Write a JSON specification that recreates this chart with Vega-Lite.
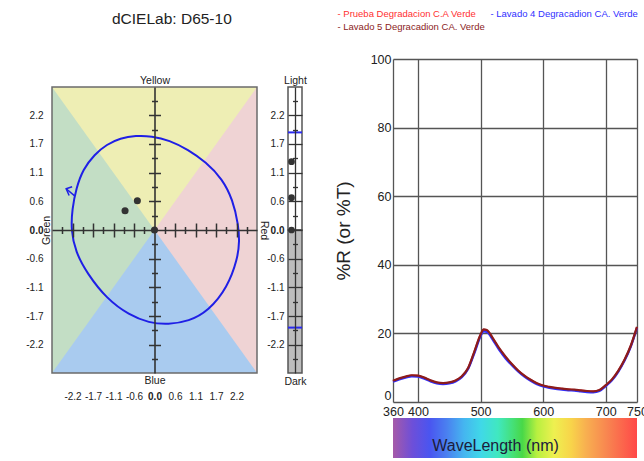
{
  "$schema": "https://vega.github.io/schema/vega-lite/v6.json",
  "width": 644,
  "height": 461,
  "autosize": "none",
  "padding": 0,
  "background": "white",
  "config": {
    "view": {"stroke": null},
    "axis": {
      "labelFont": "Liberation Sans, sans-serif",
      "labelFontSize": 10,
      "labelColor": "#222",
      "titleFont": "Liberation Sans, sans-serif",
      "titleFontSize": 10.5,
      "titleFontWeight": "normal",
      "titleColor": "#222",
      "labelFlush": false,
      "labelOverlap": false,
      "labelBound": false,
      "grid": false
    }
  },
  "title": {
    "text": "dCIELab: D65-10",
    "anchor": "start",
    "frame": "group",
    "dx": 112,
    "offset": -27,
    "fontSize": 15.5,
    "fontWeight": "normal",
    "font": "Liberation Sans, sans-serif",
    "color": "#222"
  },
  "datasets": {
    "halves": [
      {"region": "Green", "a1": -2.75, "a2": 0},
      {"region": "Red", "a1": 0, "a2": 2.75}
    ],
    "wedges": [
      {"region": "Yellow", "a": -2.75, "lo": 2.74, "hi": 2.74},
      {"region": "Yellow", "a": 0, "lo": 0, "hi": 2.74},
      {"region": "Yellow", "a": 2.75, "lo": 2.74, "hi": 2.74},
      {"region": "Blue", "a": -2.75, "lo": -2.74, "hi": -2.74},
      {"region": "Blue", "a": 0, "lo": -2.74, "hi": 0},
      {"region": "Blue", "a": 2.75, "lo": -2.74, "hi": -2.74}
    ],
    "ellipse": [
      {"i": 1, "a": -1.92, "b": 1.16},
      {"i": 2, "a": -1.61, "b": 1.45},
      {"i": 3, "a": -1.28, "b": 1.64},
      {"i": 4, "a": -0.92, "b": 1.76},
      {"i": 5, "a": -0.50, "b": 1.81},
      {"i": 6, "a": -0.08, "b": 1.80},
      {"i": 7, "a": 0.40, "b": 1.72},
      {"i": 8, "a": 0.90, "b": 1.54},
      {"i": 9, "a": 1.38, "b": 1.30},
      {"i": 10, "a": 1.82, "b": 0.98},
      {"i": 11, "a": 2.10, "b": 0.58},
      {"i": 12, "a": 2.25, "b": 0.10},
      {"i": 13, "a": 2.28, "b": -0.22},
      {"i": 14, "a": 2.23, "b": -0.55},
      {"i": 15, "a": 1.96, "b": -1.10},
      {"i": 16, "a": 1.45, "b": -1.55},
      {"i": 17, "a": 0.92, "b": -1.75},
      {"i": 18, "a": 0.37, "b": -1.81},
      {"i": 19, "a": -0.15, "b": -1.78},
      {"i": 20, "a": -0.68, "b": -1.63},
      {"i": 21, "a": -1.28, "b": -1.32},
      {"i": 22, "a": -1.80, "b": -0.84},
      {"i": 23, "a": -2.12, "b": -0.42},
      {"i": 24, "a": -2.24, "b": 0.00},
      {"i": 25, "a": -2.21, "b": 0.40},
      {"i": 26, "a": -2.10, "b": 0.80}
    ],
    "arrow": [
      {"seg": "head", "i": 1, "a": -2.21, "b": 0.83},
      {"seg": "head", "i": 2, "a": -2.37, "b": 0.79},
      {"seg": "head", "i": 3, "a": -2.29, "b": 0.66},
      {"seg": "tail", "i": 1, "a": -2.37, "b": 0.79},
      {"seg": "tail", "i": 2, "a": -2.15, "b": 0.66}
    ],
    "samples": [
      {"sample": "Prueba", "a": 0, "b": 0, "L": 0},
      {"sample": "Lavado 4", "a": -0.79, "b": 0.37, "L": 0.62},
      {"sample": "Lavado 5", "a": -0.46, "b": 0.56, "L": 1.31}
    ],
    "lhalves": [
      {"half": "Light", "lo": 0, "hi": 2.74},
      {"half": "Dark", "lo": -2.74, "hi": 0}
    ],
    "limits": [{"L": 1.87}, {"L": -1.87}],
    "spectra": [
      {"wl": 360, "P": 6.1, "L4": 5.9, "L5": 6.2},
      {"wl": 370, "P": 6.8, "L4": 6.6, "L5": 6.9},
      {"wl": 380, "P": 7.3, "L4": 7.1, "L5": 7.4},
      {"wl": 390, "P": 7.7, "L4": 7.5, "L5": 7.8},
      {"wl": 400, "P": 7.6, "L4": 7.4, "L5": 7.7},
      {"wl": 410, "P": 7.0, "L4": 6.8, "L5": 7.1},
      {"wl": 420, "P": 6.2, "L4": 6.0, "L5": 6.3},
      {"wl": 430, "P": 5.6, "L4": 5.4, "L5": 5.7},
      {"wl": 440, "P": 5.4, "L4": 5.2, "L5": 5.5},
      {"wl": 450, "P": 5.6, "L4": 5.4, "L5": 5.7},
      {"wl": 460, "P": 6.2, "L4": 6.0, "L5": 6.3},
      {"wl": 470, "P": 7.4, "L4": 7.2, "L5": 7.5},
      {"wl": 480, "P": 9.8, "L4": 9.6, "L5": 9.9},
      {"wl": 490, "P": 14.5, "L4": 14.2, "L5": 14.7},
      {"wl": 500, "P": 19.5, "L4": 19.2, "L5": 19.7},
      {"wl": 505, "P": 21.0, "L4": 20.6, "L5": 21.2},
      {"wl": 510, "P": 20.8, "L4": 20.4, "L5": 21.0},
      {"wl": 520, "P": 18.3, "L4": 18.0, "L5": 18.5},
      {"wl": 530, "P": 15.4, "L4": 15.1, "L5": 15.6},
      {"wl": 540, "P": 13.0, "L4": 12.7, "L5": 13.2},
      {"wl": 550, "P": 10.9, "L4": 10.7, "L5": 11.1},
      {"wl": 560, "P": 9.1, "L4": 8.9, "L5": 9.2},
      {"wl": 570, "P": 7.6, "L4": 7.4, "L5": 7.7},
      {"wl": 580, "P": 6.4, "L4": 6.2, "L5": 6.5},
      {"wl": 590, "P": 5.4, "L4": 5.2, "L5": 5.5},
      {"wl": 600, "P": 4.7, "L4": 4.5, "L5": 4.8},
      {"wl": 610, "P": 4.3, "L4": 4.1, "L5": 4.4},
      {"wl": 620, "P": 4.0, "L4": 3.8, "L5": 4.1},
      {"wl": 630, "P": 3.8, "L4": 3.6, "L5": 3.9},
      {"wl": 640, "P": 3.6, "L4": 3.4, "L5": 3.7},
      {"wl": 650, "P": 3.5, "L4": 3.3, "L5": 3.6},
      {"wl": 660, "P": 3.3, "L4": 3.1, "L5": 3.4},
      {"wl": 670, "P": 3.1, "L4": 2.9, "L5": 3.2},
      {"wl": 680, "P": 3.0, "L4": 2.8, "L5": 3.1},
      {"wl": 690, "P": 3.4, "L4": 3.2, "L5": 3.5},
      {"wl": 700, "P": 4.8, "L4": 4.6, "L5": 4.9},
      {"wl": 710, "P": 6.5, "L4": 6.3, "L5": 6.6},
      {"wl": 720, "P": 9.0, "L4": 8.8, "L5": 9.1},
      {"wl": 730, "P": 12.2, "L4": 12.0, "L5": 12.3},
      {"wl": 740, "P": 16.3, "L4": 16.1, "L5": 16.4},
      {"wl": 750, "P": 21.8, "L4": 21.6, "L5": 21.9}
    ]
  },
  "layer": [
    {
      "data": {"name": "halves"},
      "mark": {"type": "rect"},
      "encoding": {
        "x": {"field": "a1", "type": "quantitative",
          "scale": {"domain": [-2.75, 2.75], "range": [52, 257], "nice": false, "zero": false},
          "axis": {"orient": "bottom", "offset": -88, "values": [-2.2, -1.65, -1.1, -0.55, 0, 0.55, 1.1, 1.65, 2.2],
            "labelExpr": "(datum.value < 0 ? '-' : '') + format(abs(datum.value) + 0.001, '.1f')",
            "ticks": false, "tickSize": 0, "domain": false, "labelPadding": 18,
            "labelFontWeight": {"condition": {"test": "datum.value == 0", "value": "bold"}, "value": "normal"},
            "title": null}},
        "x2": {"field": "a2"},
        "y": {"datum": -2.74, "type": "quantitative",
          "scale": {"domain": [-2.74, 2.74], "range": [373, 87], "nice": false, "zero": false},
          "axis": {"orient": "left", "offset": -52, "values": [-2.2, -1.65, -1.1, -0.55, 0, 0.55, 1.1, 1.65, 2.2],
            "labelExpr": "(datum.value < 0 ? '-' : '') + format(abs(datum.value) + 0.001, '.1f')",
            "ticks": false, "tickSize": 0, "domain": false, "labelPadding": 9,
            "labelFontWeight": {"condition": {"test": "datum.value == 0", "value": "bold"}, "value": "normal"},
            "title": null}},
        "y2": {"datum": 2.74},
        "fill": {"field": "region", "type": "nominal",
          "scale": {"domain": ["Yellow", "Blue", "Green", "Red", "Light", "Dark"], "range": ["#eeeeb4", "#a9cbef", "#c3dec5", "#efd3d4", "#ffffff", "#bdbdbd"]},
          "legend": null}
      }
    },
    {
      "data": {"name": "wedges"},
      "mark": {"type": "area"},
      "encoding": {
        "x": {"field": "a", "type": "quantitative",
          "scale": {"domain": [-2.75, 2.75], "range": [52, 257], "nice": false, "zero": false},
          "axis": {"orient": "top", "offset": -87, "labels": false, "ticks": false, "domain": false, "title": "Yellow", "titlePadding": 2}},
        "y": {"field": "lo", "type": "quantitative", "stack": null,
          "scale": {"domain": [-2.74, 2.74], "range": [373, 87], "nice": false, "zero": false},
          "axis": {"orient": "left", "offset": -52, "labels": false, "ticks": false, "domain": false, "title": "Green", "titlePadding": 1}},
        "y2": {"field": "hi"},
        "fill": {"field": "region", "type": "nominal",
          "scale": {"domain": ["Yellow", "Blue", "Green", "Red", "Light", "Dark"], "range": ["#eeeeb4", "#a9cbef", "#c3dec5", "#efd3d4", "#ffffff", "#bdbdbd"]},
          "legend": null}
      }
    },
    {
      "data": {"values": [{}]},
      "mark": {"type": "rect", "fill": "white", "fillOpacity": 0, "stroke": "#6b6b6b", "strokeWidth": 1.5},
      "encoding": {
        "x": {"datum": -2.75, "type": "quantitative",
          "scale": {"domain": [-2.75, 2.75], "range": [52, 257], "nice": false, "zero": false},
          "axis": {"orient": "bottom", "offset": -88, "labels": false, "ticks": false, "domain": false, "title": "Blue", "titlePadding": 2}},
        "x2": {"datum": 2.75},
        "y": {"datum": -2.74, "type": "quantitative",
          "scale": {"domain": [-2.74, 2.74], "range": [373, 87], "nice": false, "zero": false},
          "axis": {"orient": "right", "offset": -387, "labels": false, "ticks": false, "domain": false, "title": "Red", "titleAngle": 90, "titlePadding": 1}},
        "y2": {"datum": 2.74}
      }
    },
    {
      "data": {"name": "ellipse"},
      "mark": {"type": "line", "interpolate": "basis-closed", "stroke": "#1f1fe6", "strokeWidth": 2},
      "encoding": {
        "x": {"field": "a", "type": "quantitative",
          "scale": {"domain": [-2.75, 2.75], "range": [52, 257], "nice": false, "zero": false},
          "axis": {"orient": "bottom", "offset": -231, "title": null, "labels": false, "zindex": 1,
            "values": [-2.475, -2.2, -1.925, -1.65, -1.375, -1.1, -0.825, -0.55, -0.275, 0.275, 0.55, 0.825, 1.1, 1.375, 1.65, 1.925, 2.2, 2.475],
            "domain": true, "domainColor": "#333", "domainWidth": 1.6,
            "ticks": true, "tickColor": "#333", "tickWidth": 1.5,
            "tickSize": {"condition": {"test": "abs(round(datum.value / 0.275) % 2) == 0", "value": 7}, "value": 3.5}}},
        "y": {"field": "b", "type": "quantitative",
          "scale": {"domain": [-2.74, 2.74], "range": [373, 87], "nice": false, "zero": false},
          "axis": {"orient": "left", "offset": -154.5, "title": null, "labels": false, "zindex": 1,
            "values": [-2.475, -2.2, -1.925, -1.65, -1.375, -1.1, -0.825, -0.55, -0.275, 0.275, 0.55, 0.825, 1.1, 1.375, 1.65, 1.925, 2.2, 2.475],
            "domain": true, "domainColor": "#333", "domainWidth": 1.6,
            "ticks": true, "tickColor": "#333", "tickWidth": 1.5,
            "tickSize": {"condition": {"test": "abs(round(datum.value / 0.275) % 2) == 0", "value": 6}, "value": 3}}},
        "order": {"field": "i", "type": "quantitative"}
      }
    },
    {
      "data": {"name": "samples"},
      "mark": {"type": "circle", "size": 50, "color": "#333", "opacity": 1},
      "encoding": {
        "x": {"field": "a", "type": "quantitative",
          "scale": {"domain": [-2.75, 2.75], "range": [52, 257], "nice": false, "zero": false},
          "axis": {"orient": "bottom", "offset": -231, "title": null, "labels": false, "zindex": 1,
            "values": [-2.475, -2.2, -1.925, -1.65, -1.375, -1.1, -0.825, -0.55, -0.275, 0.275, 0.55, 0.825, 1.1, 1.375, 1.65, 1.925, 2.2, 2.475],
            "domain": false, "ticks": true, "tickColor": "#333", "tickWidth": 1.5,
            "tickSize": {"condition": {"test": "abs(round(datum.value / 0.275) % 2) == 0", "value": -7}, "value": -3.5}}},
        "y": {"field": "b", "type": "quantitative",
          "scale": {"domain": [-2.74, 2.74], "range": [373, 87], "nice": false, "zero": false},
          "axis": {"orient": "left", "offset": -154.5, "title": null, "labels": false, "zindex": 1,
            "values": [-2.475, -2.2, -1.925, -1.65, -1.375, -1.1, -0.825, -0.55, -0.275, 0.275, 0.55, 0.825, 1.1, 1.375, 1.65, 1.925, 2.2, 2.475],
            "domain": false, "ticks": true, "tickColor": "#333", "tickWidth": 1.5,
            "tickSize": {"condition": {"test": "abs(round(datum.value / 0.275) % 2) == 0", "value": -6}, "value": -3}}}
      }
    },
    {
      "data": {"name": "arrow"},
      "mark": {"type": "line", "stroke": "#1f1fe6", "strokeWidth": 1.5},
      "encoding": {
        "x": {"field": "a", "type": "quantitative",
          "scale": {"domain": [-2.75, 2.75], "range": [52, 257], "nice": false, "zero": false}, "axis": null},
        "y": {"field": "b", "type": "quantitative",
          "scale": {"domain": [-2.74, 2.74], "range": [373, 87], "nice": false, "zero": false}, "axis": null},
        "detail": {"field": "seg", "type": "nominal"},
        "order": {"field": "i", "type": "quantitative"}
      }
    },
    {
      "data": {"name": "lhalves"},
      "mark": {"type": "rect", "stroke": "#555", "strokeWidth": 1.5},
      "encoding": {
        "x": {"datum": 0, "type": "quantitative",
          "scale": {"domain": [0, 1], "range": [288, 302], "nice": false, "zero": false},
          "axis": {"orient": "top", "offset": -87, "labels": false, "ticks": false, "domain": false, "title": "Light", "titlePadding": 2}},
        "x2": {"datum": 1},
        "y": {"field": "lo", "type": "quantitative",
          "scale": {"domain": [-2.74, 2.74], "range": [373, 87], "nice": false, "zero": false},
          "axis": {"orient": "left", "offset": -288, "values": [-2.2, -1.65, -1.1, -0.55, 0, 0.55, 1.1, 1.65, 2.2],
            "labelExpr": "(datum.value < 0 ? '-' : '') + format(abs(datum.value) + 0.001, '.1f')",
            "ticks": false, "tickSize": 0, "domain": false, "labelPadding": 4, "zindex": 1,
            "grid": true, "gridColor": "#333", "gridWidth": 1.3,
            "labelFontWeight": {"condition": {"test": "datum.value == 0", "value": "bold"}, "value": "normal"},
            "title": null}},
        "y2": {"field": "hi"},
        "fill": {"field": "half", "type": "nominal",
          "scale": {"domain": ["Yellow", "Blue", "Green", "Red", "Light", "Dark"], "range": ["#eeeeb4", "#a9cbef", "#c3dec5", "#efd3d4", "#ffffff", "#bdbdbd"]},
          "legend": null}
      }
    },
    {
      "data": {"name": "limits"},
      "mark": {"type": "rule", "stroke": "#2a2af0", "strokeWidth": 2},
      "encoding": {
        "x": {"datum": 0, "type": "quantitative",
          "scale": {"domain": [0, 1], "range": [288, 302], "nice": false, "zero": false},
          "axis": {"orient": "bottom", "offset": -88, "labels": false, "ticks": false, "domain": false, "title": "Dark", "titlePadding": 3}},
        "x2": {"datum": 1},
        "y": {"field": "L", "type": "quantitative",
          "scale": {"domain": [-2.74, 2.74], "range": [373, 87], "nice": false, "zero": false},
          "axis": {"orient": "left", "offset": -295, "title": null, "labels": false, "zindex": 1,
            "values": [-2.475, -1.925, -1.375, -0.825, -0.275, 0.275, 0.825, 1.375, 1.925, 2.475],
            "domain": true, "domainColor": "#333", "domainWidth": 1.3,
            "ticks": true, "tickColor": "#333", "tickWidth": 1.3, "tickSize": 2.5}}
      }
    },
    {
      "data": {"name": "samples"},
      "mark": {"type": "circle", "size": 45, "color": "#333", "opacity": 1},
      "encoding": {
        "x": {"datum": 0.25, "type": "quantitative",
          "scale": {"domain": [0, 1], "range": [288, 302], "nice": false, "zero": false}, "axis": null},
        "y": {"field": "L", "type": "quantitative",
          "scale": {"domain": [-2.74, 2.74], "range": [373, 87], "nice": false, "zero": false},
          "axis": {"orient": "left", "offset": -295, "title": null, "labels": false, "zindex": 1,
            "values": [-2.475, -1.925, -1.375, -0.825, -0.275, 0.275, 0.825, 1.375, 1.925, 2.475],
            "domain": false, "ticks": true, "tickColor": "#333", "tickWidth": 1.3, "tickSize": -2.5}}
      }
    },
    {
      "data": {"name": "spectra"},
      "transform": [{"fold": ["P", "L4", "L5"], "as": ["series", "R"]}],
      "mark": {"type": "line", "strokeWidth": 2.2, "interpolate": "monotone"},
      "encoding": {
        "x": {"field": "wl", "type": "quantitative",
          "scale": {"domain": [360, 750], "range": [393, 637], "nice": false, "zero": false},
          "axis": {"orient": "bottom", "offset": -59, "values": [360, 400, 500, 600, 700, 750],
            "grid": true, "gridColor": "#555", "gridWidth": 1.3,
            "ticks": false, "tickSize": 0, "domain": false, "labelPadding": 3, "labelFontSize": 12.5, "title": null}},
        "y": {"field": "R", "type": "quantitative",
          "scale": {"domain": [0, 100], "range": [402, 59], "nice": false, "zero": false},
          "axis": {"orient": "left", "offset": -393, "values": [0, 20, 40, 60, 80, 100],
            "grid": true, "gridColor": "#555", "gridWidth": 1.3,
            "ticks": false, "tickSize": 0, "domain": false, "labelPadding": 2, "labelFontSize": 12.5,
            "labelBaseline": {"condition": {"test": "datum.value == 0", "value": "bottom"}, "value": "middle"},
            "title": "%R (or %T)", "titleFont": "Liberation Sans, sans-serif", "titleFontSize": 19, "titlePadding": 17}},
        "color": {"field": "series", "type": "nominal",
          "scale": {"domain": ["P", "L4", "L5"], "range": ["#ff3030", "#3030ff", "#8b1c1c"]},
          "legend": {"orient": "none", "legendX": 328, "legendY": 9, "direction": "horizontal", "columns": 2, "gridAlign": "none", "title": null,
            "symbolOpacity": 0, "symbolSize": 0, "symbolStrokeWidth": 0, "labelOffset": 0,
            "labelFont": "Liberation Sans, sans-serif", "labelFontSize": 9.5, "labelLimit": 400,
            "columnPadding": -4, "rowPadding": 2,
            "labelExpr": "datum.label == 'P' ? '- Prueba Degradacion C.A Verde' : datum.label == 'L4' ? '- Lavado 4 Degracadion CA. Verde' : '- Lavado 5 Degracadion CA. Verde'",
            "encode": {"labels": {"update": {"fill": {"scale": "color", "field": "value"}}}}}}
      }
    },
    {
      "data": {"values": [{}]},
      "mark": {"type": "rect", "fill": {"gradient": "linear", "x1": 0, "y1": 0, "x2": 1, "y2": 0,
        "stops": [
          {"offset": 0, "color": "#a65aa8"},
          {"offset": 0.08, "color": "#6d4fd9"},
          {"offset": 0.15, "color": "#4a55f0"},
          {"offset": 0.22, "color": "#4a80f0"},
          {"offset": 0.29, "color": "#45b5f0"},
          {"offset": 0.36, "color": "#40d8e8"},
          {"offset": 0.43, "color": "#40e8c0"},
          {"offset": 0.49, "color": "#45e078"},
          {"offset": 0.53, "color": "#48d848"},
          {"offset": 0.59, "color": "#b8f040"},
          {"offset": 0.66, "color": "#eef050"},
          {"offset": 0.73, "color": "#f8d44a"},
          {"offset": 0.79, "color": "#f8b050"},
          {"offset": 0.88, "color": "#f88450"},
          {"offset": 1, "color": "#ff4848"}
        ]}},
      "encoding": {
        "x": {"datum": 360, "type": "quantitative",
          "scale": {"domain": [360, 750], "range": [393, 637], "nice": false, "zero": false},
          "axis": {"orient": "bottom", "offset": -24, "labels": false, "ticks": false, "domain": false, "zindex": 1,
            "title": "WaveLength (nm)", "titlePadding": 0, "titleFontSize": 16, "titleColor": "#1c1c3c", "titleX": 495}},
        "x2": {"datum": 750},
        "y": {"datum": 0, "type": "quantitative",
          "scale": {"domain": [0, 1], "range": [458, 418], "nice": false, "zero": false}, "axis": null},
        "y2": {"datum": 1}
      }
    }
  ],
  "resolve": {"scale": {"x": "independent", "y": "independent"}}
}
